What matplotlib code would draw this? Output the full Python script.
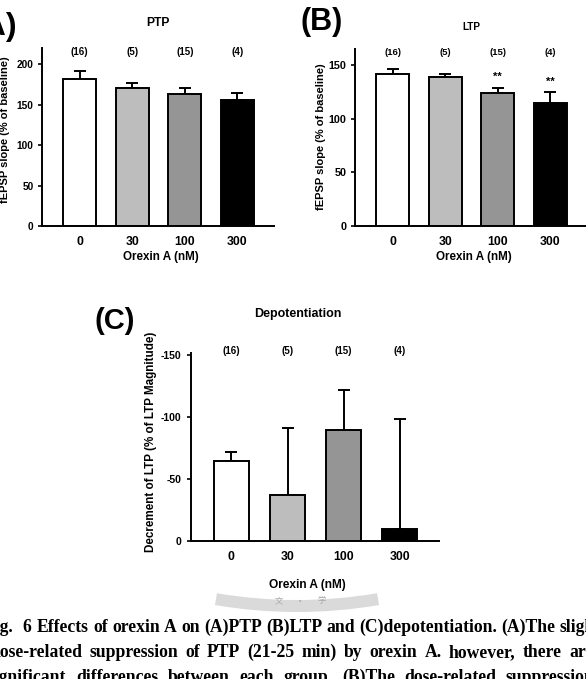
import matplotlib
matplotlib.use("Agg")
import matplotlib.pyplot as plt
from matplotlib.patches import Wedge

W, H = 586, 679

categories = ['0', '30', '100', '300']
n_labels = ['(16)', '(5)', '(15)', '(4)']
bar_colors = ['#ffffff', '#bdbdbd', '#959595', '#000000']

ptp_mean = [181.5, 170.5, 163, 156]
ptp_sem = [10.5, 6, 7, 8]

ltp_mean = [142, 139, 124, 115]
ltp_sem = [4, 2.5, 5, 9.5]
ltp_sig = ['', '', '**', '**']

dep_mean = [-65, -37, -90, -9.5]
dep_sem = [7, 54, 32, 89]

caption_lines = [
    ["Fig.", "6", "Effects", "of", "orexin", "A", "on", "(A)PTP", "(B)LTP", "and",
     "(C)depotentiation.", "(A)The", "slight"],
    ["dose-related", "suppression", "of", "PTP", "(21-25", "min)", "by", "orexin", "A.",
     "however,", "there", "are", "no"],
    ["significant", "differences", "between", "each", "group.", "(B)The", "dose-related",
     "suppression"],
]

SANS = ['Liberation Sans', 'DejaVu Sans']
SERIF = ['Liberation Serif', 'DejaVu Serif']
CJK = ['Noto Sans CJK TC', 'DejaVu Sans']

fig = plt.figure(figsize=(W / 100, H / 100), dpi=100)
fig.patch.set_facecolor('white')

# faint watermark layer (pixel coordinates)
bg = fig.add_axes([0, 0, 1, 1], zorder=-5)
bg.set_xlim(0, W)
bg.set_ylim(H, 0)
bg.axis('off')
bg.add_patch(Wedge((297, 125), 487, 80.3, 99.7, width=12, facecolor='#dadada',
                   edgecolor='none'))
bg.text(279, 601, '文', family=CJK, fontsize=6, color='#a8a8a8', ha='center', va='center')
bg.text(300, 601, '•', family=SANS, fontsize=5, color='#a8a8a8', ha='center', va='center')
bg.text(322, 601, '学', family=CJK, fontsize=6, color='#a8a8a8', ha='center', va='center')


def axrect(x0, yt, x1, yb):
    return [x0 / W, 1 - yb / H, (x1 - x0) / W, (yb - yt) / H]


def ftext(x, y, s, **kw):
    kw.setdefault('family', SANS)
    kw.setdefault('weight', 'bold')
    kw.setdefault('ha', 'center')
    kw.setdefault('va', 'center')
    return fig.text(x / W, 1 - y / H, s, **kw)


def style_axes(ax, ytick_fs, xtick_fs, ypad=3):
    for s in ['top', 'right']:
        ax.spines[s].set_visible(False)
    for s in ['left', 'bottom']:
        ax.spines[s].set_linewidth(1.4)
    ax.tick_params(axis='y', direction='out', length=3, width=1.2, labelsize=ytick_fs, pad=ypad)
    ax.tick_params(axis='x', length=0, labelsize=xtick_fs, pad=7)
    for lab in ax.get_xticklabels() + ax.get_yticklabels():
        lab.set_fontweight('bold')
        lab.set_family(SANS)


def draw_bars(ax, means, errs, width, up):
    x = list(range(len(means)))
    ax.bar(x, means, width=width, color=bar_colors, edgecolor='black', linewidth=1.4, zorder=2)
    if up:
        yerr = [[0] * len(errs), errs]
    else:
        yerr = [errs, [0] * len(errs)]
    ax.errorbar(x, means, yerr=yerr, fmt='none', ecolor='black', elinewidth=1.4,
                capsize=4.5, capthick=1.4, zorder=1)
    ax.set_xticks(x)
    ax.set_xticklabels(categories)


# ---- Panel A: PTP ----
axA = fig.add_axes(axrect(42, 48, 274, 226))
draw_bars(axA, ptp_mean, ptp_sem, 0.63, True)
axA.set_xlim(-0.72, 3.7)
axA.set_ylim(0, 220)
axA.set_yticks([0, 50, 100, 150, 200])
style_axes(axA, 7.3, 8.8)
for i, t in enumerate(n_labels):
    axA.text(i, 215, t, ha='center', va='center', fontsize=7, fontweight='bold', family=SANS)
ftext(158, 23, 'PTP', fontsize=8.7)
ftext(161, 257, 'Orexin A (nM)', fontsize=8.4)
ftext(5, 130, 'fEPSP slope (% of baseline)', fontsize=8, rotation=90)
ftext(-28, 27, '(A)', fontsize=23, ha='left')

# ---- Panel B: LTP ----
axB = fig.add_axes(axrect(355, 49, 587, 226))
draw_bars(axB, ltp_mean, ltp_sem, 0.63, True)
axB.set_xlim(-0.72, 3.7)
axB.set_ylim(0, 165)
axB.set_yticks([0, 50, 100, 150])
style_axes(axB, 7.8, 8.8)
for i, t in enumerate(n_labels):
    axB.text(i, 162, t, ha='center', va='center', fontsize=6.8, fontweight='bold', family=SANS)
for i, s in enumerate(ltp_sig):
    if s:
        axB.text(i, ltp_mean[i] + ltp_sem[i] + 5, s, ha='center', va='bottom',
                 fontsize=8, fontweight='bold', family=SANS)
ftext(471, 27, 'LTP', fontsize=7.2)
ftext(474, 257, 'Orexin A (nM)', fontsize=8.4)
ftext(321, 137, 'fEPSP slope (% of baseline)', fontsize=8, rotation=90)
ftext(300, 22, '(B)', fontsize=22, ha='left')

# ---- Panel C: Depotentiation ----
axC = fig.add_axes(axrect(191, 353, 439, 541))
draw_bars(axC, dep_mean, dep_sem, 0.62, False)
axC.set_xlim(-0.72, 3.7)
axC.set_ylim(0, -152)
axC.set_yticks([-150, -100, -50, 0])
axC.set_yticklabels(['-150', '-100', '-50', '0'])
style_axes(axC, 7.5, 8.8, ypad=4)
for i, t in enumerate(n_labels):
    axC.text(i, -153.5, t, ha='center', va='center', fontsize=7, fontweight='bold', family=SANS)
ftext(298, 314, 'Depotentiation', fontsize=9)
ftext(307, 585, 'Orexin A (nM)', fontsize=8.6)
ftext(151, 442, 'Decrement of LTP (% of LTP Magnitude)', fontsize=8.4, rotation=90)
ftext(95, 321, '(C)', fontsize=21, ha='left')

# ---- Caption (justified serif text) ----
renderer = fig.canvas.get_renderer()


def place_line(words, baseline, i, xi, j, xj, fixed=None, fs=12.7):
    fixed = fixed or {}
    texts = []
    widths = []
    for w in words:
        t = fig.text(0, 1 - baseline / H, w, family=SERIF, weight='bold', fontsize=fs,
                     ha='left', va='baseline')
        widths.append(t.get_window_extent(renderer).width)
        texts.append(t)
    gap = (xj - xi - sum(widths[i:j])) / (j - i)
    xs = [0.0] * len(words)
    xs[i] = xi
    for k in range(i + 1, len(words)):
        xs[k] = xs[k - 1] + widths[k - 1] + gap
    for k in range(i - 1, -1, -1):
        xs[k] = fixed.get(k, xs[k + 1] - gap - widths[k])
    for t, x in zip(texts, xs):
        t.set_x(x / W)


place_line(caption_lines[0], 632, 2, 37, 12, 560, fixed={0: -15, 1: 22})
place_line(caption_lines[1], 657, 0, -10, 11, 569)
place_line(caption_lines[2], 682, 0, -12, 7, 506)

fig.savefig('out.png', dpi=100, facecolor='white')
